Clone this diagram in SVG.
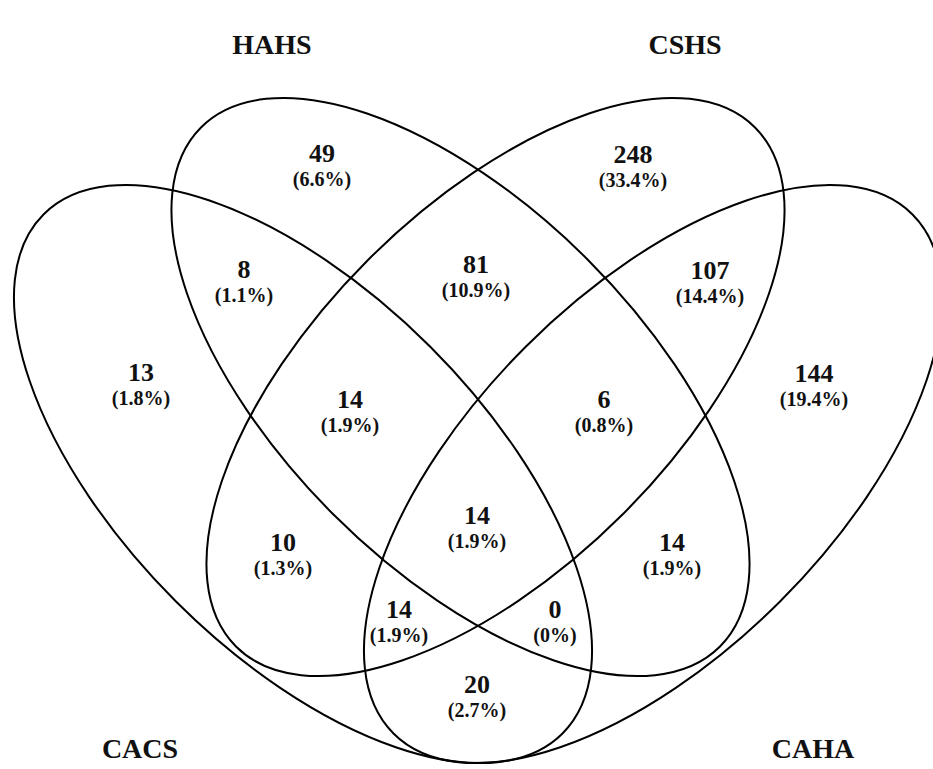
<svg xmlns="http://www.w3.org/2000/svg" width="933" height="769" viewBox="0 0 933 769">
<style>
.e{fill:none;stroke:#000;stroke-width:2}
text{font-family:"Liberation Serif","Times New Roman",serif;font-weight:bold;fill:#111;text-anchor:middle}
.n{font-size:26px}
.p{font-size:20px}
.t{font-size:28px}
</style>
<rect width="933" height="769" fill="#fff"/>
<g id="connectors"></g>
<g id="CACS">
<ellipse class="e" cx="303" cy="474" rx="367" ry="180" transform="rotate(45 303 474)"/>
<text class="t" x="140" y="758">CACS</text>
</g>
<g id="HAHS">
<ellipse class="e" cx="460.5" cy="387" rx="367" ry="180" transform="rotate(45 460.5 387)"/>
<text class="t" x="272" y="54">HAHS</text>
</g>
<g id="CSHS">
<ellipse class="e" cx="495.5" cy="387" rx="367" ry="180" transform="rotate(-45 495.5 387)"/>
<text class="t" x="685" y="54">CSHS</text>
</g>
<g id="CAHA">
<ellipse class="e" cx="653" cy="474" rx="367" ry="180" transform="rotate(-45 653 474)"/>
<text class="t" x="813" y="758">CAHA</text>
</g>
<g id="counts">
<text class="n" x="322" y="162">49</text><text class="p" x="322" y="186">(6.6%)</text>
<text class="n" x="633" y="163">248</text><text class="p" x="633" y="187">(33.4%)</text>
<text class="n" x="244" y="278">8</text><text class="p" x="244" y="302">(1.1%)</text>
<text class="n" x="476" y="273">81</text><text class="p" x="476" y="297">(10.9%)</text>
<text class="n" x="710" y="279">107</text><text class="p" x="710" y="303">(14.4%)</text>
<text class="n" x="141" y="381">13</text><text class="p" x="141" y="405">(1.8%)</text>
<text class="n" x="814" y="382">144</text><text class="p" x="814" y="406">(19.4%)</text>
<text class="n" x="350" y="408">14</text><text class="p" x="350" y="432">(1.9%)</text>
<text class="n" x="604" y="408">6</text><text class="p" x="604" y="432">(0.8%)</text>
<text class="n" x="477" y="524">14</text><text class="p" x="477" y="548">(1.9%)</text>
<text class="n" x="283" y="551">10</text><text class="p" x="283" y="575">(1.3%)</text>
<text class="n" x="672" y="551">14</text><text class="p" x="672" y="575">(1.9%)</text>
<text class="n" x="399" y="618">14</text><text class="p" x="399" y="642">(1.9%)</text>
<text class="n" x="555" y="618">0</text><text class="p" x="555" y="642">(0%)</text>
<text class="n" x="477" y="693">20</text><text class="p" x="477" y="717">(2.7%)</text>
</g>
</svg>
